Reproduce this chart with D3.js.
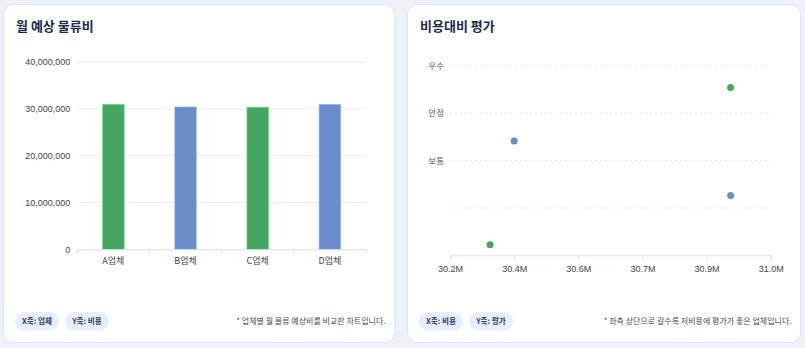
<!DOCTYPE html>
<html>
<head>
<meta charset="utf-8">
<script src="https://cdn.jsdelivr.net/npm/d3@7"></script>
<style>
    html, body { margin: 0; padding: 0; background: #eef1f7; }
    svg { display: block; }
    .lbl { font-family: Arial, "Liberation Sans", "Noto Sans CJK KR", sans-serif; }
    .kr { font-family: "Noto Sans CJK KR", sans-serif; }
</style>
</head>
<body>
<svg id="chart" width="805" height="348"></svg>
<script>
// 업체 / 비용 / 평가
var companies = ['A업체', 'B업체', 'C업체', 'D업체']
var costs = [30940000, 30400000, 30340000, 30940000]
var scores = [3.54, 2.41, 0.22, 1.26]
var colors = ['#44a661', '#6a8cc8', '#44a661', '#6a8cc8']

var barTicks = [0, 10000000, 20000000, 30000000, 40000000]
var scatterXTicks = [30240000, 30400000, 30560000, 30720000, 30880000, 31040000]
var scatterXLabels = ['30.2M', '30.4M', '30.6M', '30.7M', '30.9M', '31.0M']
var scoreTicks = [1, 2, 3, 4]
var scoreLabels = ['', '보통', '안정', '우수']

var cards = [
    { x: 3.5, y: 4.5, w: 391, h: 338, title: '월 예상 물류비', chips: ['X축: 업체', 'Y축: 비용'], note: '* 업체별 월 물류 예상비를 비교한 차트입니다.' },
    { x: 407.5, y: 4.5, w: 393, h: 338, title: '비용대비 평가', chips: ['X축: 비용', 'Y축: 평가'], note: '* 좌측 상단으로 갈수록 저비용에 평가가 좋은 업체입니다.' }
]

var svg = d3.select('#chart')

// 카드 배경 + 제목 + 칩
cards.forEach(c => {
    var g = svg.append('g')
    g.append('rect')
        .attr('x', c.x).attr('y', c.y)
        .attr('width', c.w).attr('height', c.h)
        .attr('rx', 10)
        .attr('fill', '#fff')
        .attr('stroke', '#dde5f2')
    g.append('text')
        .attr('class', 'kr')
        .attr('x', c.x + 12.5).attr('y', c.y + 26)
        .attr('font-size', 13).attr('font-weight', 700)
        .attr('fill', '#1b2a4a')
        .text(c.title)
    var cx = c.x + 11.5
    c.chips.forEach(t => {
        g.append('rect')
            .attr('x', cx).attr('y', c.y + 307.5)
            .attr('width', 44).attr('height', 18.5)
            .attr('rx', 9.25)
            .attr('fill', '#e8eefb')
        g.append('text')
            .attr('class', 'kr')
            .attr('x', cx + 22).attr('y', c.y + 319.7)
            .attr('text-anchor', 'middle')
            .attr('font-size', 7.6).attr('font-weight', 700)
            .attr('fill', '#2c3c6c')
            .text(t)
        cx += 50
    })
    g.append('text')
        .attr('class', 'kr')
        .attr('x', c.x + c.w - 9).attr('y', c.y + 319.7)
        .attr('text-anchor', 'end')
        .attr('font-size', 8)
        .attr('fill', '#4a4a4a')
        .text(c.note)
})

// ---------- 막대 차트 ----------
var bar = { left: 77.3, right: 366, top: 62, bottom: 249.3 }
var xb = d3.scaleBand().domain(companies).range([bar.left, bar.right]).paddingInner(0).paddingOuter(0)
var yb = d3.scaleLinear().domain([0, 40000000]).range([bar.bottom, bar.top])

var gb = svg.append('g')
// grid
gb.selectAll('line.grid')
    .data(barTicks.slice(1))
    .join('line')
    .attr('class', 'grid')
    .attr('x1', bar.left).attr('x2', bar.right)
    .attr('y1', d => yb(d)).attr('y2', d => yb(d))
    .attr('stroke', '#ececec').attr('stroke-width', 1)

var yAxisB = gb.append('g')
    .attr('class', 'lbl')
    .attr('transform', `translate(${bar.left},0)`)
    .call(d3.axisLeft(yb).tickValues(barTicks).tickFormat(d3.format(',')).tickSize(0).tickPadding(7))
yAxisB.select('.domain').remove()
yAxisB.selectAll('text').attr('font-size', 9).attr('fill', '#444').attr('font-family', null)

gb.selectAll('rect.bar')
    .data(costs)
    .join('rect')
    .attr('class', 'bar')
    .attr('x', (d, i) => xb(companies[i]) + xb.bandwidth() / 2 - 10.8)
    .attr('width', 21.6)
    .attr('y', d => yb(d))
    .attr('height', d => bar.bottom - yb(d))
    .attr('fill', (d, i) => colors[i])
    .attr('stroke', (d, i) => d3.color(colors[i]).brighter(0.8))
    .attr('stroke-opacity', 0.6)
    .attr('stroke-width', 1)

var xAxisB = gb.append('g')
    .attr('transform', `translate(0,${bar.bottom})`)
    .call(d3.axisBottom(xb).tickSize(0).tickPadding(8))
xAxisB.select('.domain').attr('stroke', '#dcdcdc')
xAxisB.selectAll('text').attr('class', 'kr').attr('font-size', 9).attr('fill', '#444').attr('font-family', null)
// band boundary ticks
gb.selectAll('line.btick')
    .data(companies.map(c => xb(c)).concat([bar.right]))
    .join('line')
    .attr('class', 'btick')
    .attr('x1', d => d).attr('x2', d => d)
    .attr('y1', bar.bottom).attr('y2', bar.bottom + 4)
    .attr('stroke', '#dcdcdc')

// ---------- 산점도 ----------
var sc = { left: 450, right: 770.7, top: 65.7, bottom: 255.3 }
var xs = d3.scaleLinear().domain([scatterXTicks[0], scatterXTicks[scatterXTicks.length - 1]]).range([sc.left, sc.right])
var ys = d3.scaleLinear().domain([0, 4]).range([sc.bottom, sc.top])

var gs = svg.append('g')
gs.selectAll('line.grid')
    .data(scoreTicks)
    .join('line')
    .attr('class', 'grid')
    .attr('x1', sc.left).attr('x2', sc.right)
    .attr('y1', d => ys(d)).attr('y2', d => ys(d))
    .attr('stroke', '#e2e2e2').attr('stroke-width', 1)
    .attr('stroke-dasharray', '2,3')

var yAxisS = gs.append('g')
    .attr('transform', `translate(${sc.left},0)`)
    .call(d3.axisLeft(ys).tickValues(scoreTicks).tickFormat((d, i) => scoreLabels[i]).tickSize(0).tickPadding(6))
yAxisS.select('.domain').remove()
yAxisS.selectAll('text').attr('class', 'kr').attr('font-size', 8.5).attr('fill', '#555').attr('font-family', null)

var xAxisS = gs.append('g')
    .attr('class', 'lbl')
    .attr('transform', `translate(0,${sc.bottom})`)
    .call(d3.axisBottom(xs).tickValues(scatterXTicks).tickFormat((d, i) => scatterXLabels[i]).tickSize(4).tickPadding(6))
xAxisS.select('.domain').attr('stroke', '#e0e0e0')
xAxisS.selectAll('line').attr('stroke', '#e0e0e0')
xAxisS.selectAll('text').attr('font-size', 9).attr('fill', '#444').attr('font-family', null)

gs.selectAll('circle')
    .data(costs)
    .join('circle')
    .attr('cx', d => xs(d))
    .attr('cy', (d, i) => ys(scores[i]))
    .attr('r', 3.5)
    .attr('fill', (d, i) => colors[i])
</script>
</body>
</html>
